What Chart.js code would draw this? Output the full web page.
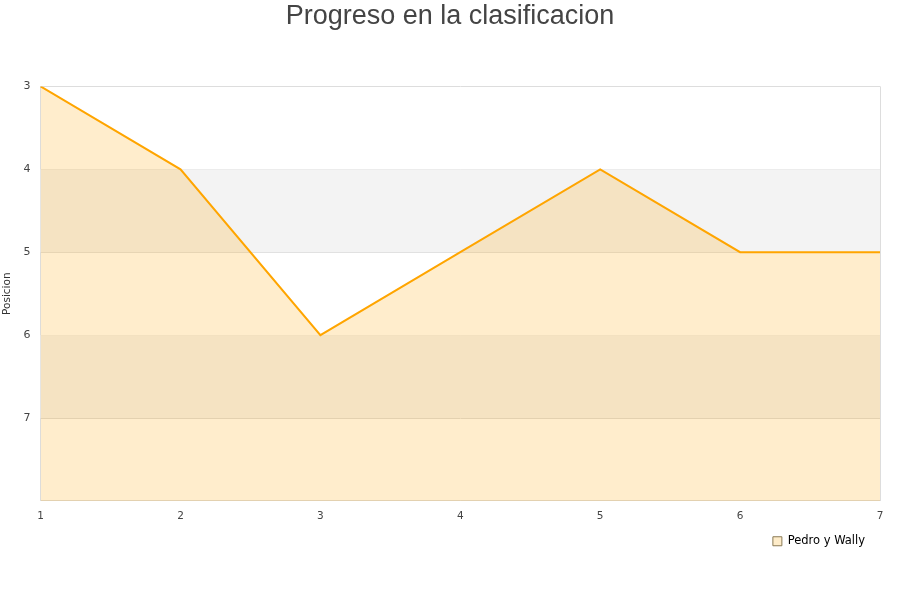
<!DOCTYPE html>
<html>
<head>
<meta charset="utf-8">
<script src="https://cdn.jsdelivr.net/npm/chart.js@4"></script>
<style>
  html, body { margin: 0; padding: 0; background: #fff; }
  #wrap { width: 900px; height: 600px; }
</style>
</head>
<body>
<div id="wrap"><canvas id="myChart" width="900" height="600"></canvas></div>
<script>
  const jornadas = ['1', '2', '3', '4', '5', '6', '7'];
  const posiciones = [3, 4, 6, 5, 4, 5, 5];
  const yTicks = [3, 4, 5, 6, 7];

  // grey bands between every other gridline, drawn under the data
  const bandPlugin = {
    id: 'bands',
    beforeDatasetsDraw(chart) {
      const ctx = chart.ctx;
      const area = chart.chartArea;
      const y = chart.scales.y;
      ctx.save();
      ctx.fillStyle = '#f3f3f3';
      for (let v = 4; v < 8; v += 2) {
        const a = y.getPixelForValue(v);
        const b = y.getPixelForValue(v + 1);
        ctx.fillRect(area.left, a, area.right - area.left, b - a);
      }
      ctx.restore();
    }
  };

  const config = {
    type: 'line',
    data: {
      labels: jornadas,
      datasets: [{
        label: 'Pedro y Wally',
        data: posiciones,
        borderColor: '#ffa500',
        backgroundColor: 'rgba(255, 165, 0, 0.2)',
        borderWidth: 2,
        pointRadius: 0,
        tension: 0,
        fill: { value: 8 }
      }]
    },
    options: {
      animation: false,
      responsive: false,
      layout: { padding: { left: 0, right: 0, top: 0, bottom: 43 } },
      plugins: {
        title: {
          display: true,
          text: 'Progreso en la clasificacion',
          color: '#444',
          font: { family: 'Liberation Sans', size: 27, weight: 'normal' },
          padding: { top: 0, bottom: 54 }
        },
        legend: {
          display: true,
          position: 'bottom',
          align: 'end',
          fullSize: false,
          labels: {
            boxWidth: 9,
            boxHeight: 9,
            padding: 4,
            color: '#222',
            font: { family: 'DejaVu Sans', size: 11.5 },
            generateLabels(chart) {
              return [{
                text: 'Pedro y Wally   ',
                fillStyle: '#feecc9',
                strokeStyle: '#8a7a55',
                lineWidth: 1,
                datasetIndex: 0
              }];
            }
          }
        },
        tooltip: { enabled: false }
      },
      scales: {
        x: {
          offset: false,
          grid: { display: false, drawTicks: false },
          border: { color: '#ddd' },
          ticks: {
            color: '#444',
            padding: 9,
            maxRotation: 0,
            font: { family: 'DejaVu Sans', size: 10.5 }
          }
        },
        y: {
          reverse: true,
          min: 3,
          max: 8,
          afterBuildTicks(scale) {
            scale.ticks = [3, 4, 5, 6, 7, 8].map(v => ({ value: v }));
          },
          grid: { color: '#ddd', drawTicks: false },
          border: { color: '#ddd' },
          ticks: {
            color: '#444',
            padding: 10,
            font: { family: 'DejaVu Sans', size: 11 },
            callback: v => yTicks.includes(v) ? String(v) : ''
          },
          title: {
            display: true,
            text: 'Posicion',
            color: '#333',
            font: { family: 'DejaVu Sans', size: 10.5 },
            padding: { top: 1, bottom: 0 }
          }
        },
        yRight: {
          axis: 'y',
          position: 'right',
          display: true,
          grid: { display: false },
          ticks: { display: false },
          border: { display: false },
          afterFit(scale) { scale.width = 20; }
        }
      }
    },
    plugins: [bandPlugin, {
      id: 'rightBorder',
      afterDraw(chart) {
        const a = chart.chartArea;
        const ctx = chart.ctx;
        ctx.save();
        ctx.strokeStyle = '#ddd';
        ctx.lineWidth = 1;
        ctx.beginPath();
        ctx.moveTo(a.right + 0.5, a.top);
        ctx.lineTo(a.right + 0.5, a.bottom);
        ctx.stroke();
        ctx.restore();
      }
    }]
  };

  let myChart = new Chart(document.getElementById('myChart'), config);
</script>
</body>
</html>
